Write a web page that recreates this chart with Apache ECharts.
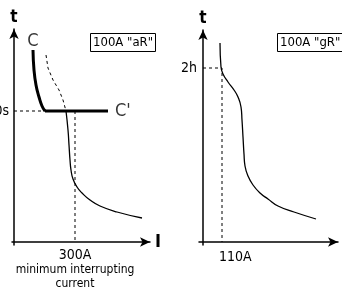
<!DOCTYPE html>
<html>
<head>
<meta charset="utf-8">
<script src="https://cdn.jsdelivr.net/npm/echarts@6/dist/echarts.min.js"></script>
<style>
  html, body { margin: 0; padding: 0; background: #fff; }
  #chart { width: 342px; height: 290px; }
</style>
</head>
<body>
<div id="chart"></div>
<script>
// 左图 100A "aR"（单位为示意刻度）
const aRCurveC = [[19, 192], [20, 172], [22, 157], [25, 145], [28, 136], [31, 131]]
const aRLineC2 = [[31, 131], [94, 131]]
const aRFuseHidden = [[32, 187], [34, 174], [39, 162], [45, 152], [49, 142], [52, 131]]
const aRFuse = [[52, 131], [54, 112], [55, 97], [56, 82], [57, 72], [59, 63], [63, 55], [68, 49], [76, 42], [86, 36], [103, 30], [128, 24]]
const aRTime = 131    // 10s
const aRCurrent = 61  // 300A

// 右图 100A "gR"
const gRFuse = [[17, 199], [18, 175], [20, 168], [25, 160], [31, 152], [35, 145], [38, 135], [39, 122], [40, 105], [41, 88], [42, 76], [45, 66], [50, 57], [57, 49], [65, 43], [75, 36], [91, 30], [113, 23]]
const gRTime = 174    // 2h
const gRCurrent = 19  // 110A

const tickLabels = ['10s', '300A', '2h', '110A']
const titles = ['100A "aR"', '100A "gR"']

const font = "'Liberation Sans Narrow', 'DejaVu Sans Condensed', 'Liberation Sans', sans-serif"

let myChart = echarts.init(document.getElementById('chart'))

function axisLine() {
  return {
    show: true,
    onZero: true,
    symbol: ['none', 'arrow'],
    symbolSize: [7, 10],
    lineStyle: { color: '#000', width: 1.5 },
  }
}

function dashed(data, xi) {
  return {
    type: 'line',
    xAxisIndex: xi,
    yAxisIndex: xi,
    data: data,
    symbol: 'none',
    silent: true,
    lineStyle: { color: '#000', width: 1, type: [3, 3] },
  }
}

function solid(data, xi, w, smooth) {
  return {
    type: 'line',
    xAxisIndex: xi,
    yAxisIndex: xi,
    data: data,
    symbol: 'none',
    smooth: smooth,
    silent: true,
    lineStyle: { color: '#000', width: w },
  }
}

let option = {
  animation: false,
  textStyle: { fontFamily: font },
  title: [
    {
      text: titles[0],
      left: 90,
      top: 33,
      padding: [3, 3],
      borderColor: '#000',
      borderWidth: 1,
      textStyle: { fontFamily: font, fontSize: 13, fontWeight: 'normal', color: '#000' },
    },
    {
      text: titles[1],
      left: 277,
      top: 33,
      padding: [3, 3],
      borderColor: '#000',
      borderWidth: 1,
      textStyle: { fontFamily: font, fontSize: 13, fontWeight: 'normal', color: '#000' },
    },
  ],
  grid: [
    { left: 12, top: 29, width: 138, height: 216, outerBoundsMode: 'none', containLabel: false },
    { left: 199, top: 30, width: 139, height: 215, outerBoundsMode: 'none', containLabel: false },
  ],
  xAxis: [
    {
      gridIndex: 0,
      type: 'value',
      min: -2,
      max: 136,
      name: 'I',
      nameLocation: 'end',
      nameGap: 5,
      nameTextStyle: { fontSize: 18, fontWeight: 'bold', color: '#000', fontFamily: font, padding: [0, 0, 20, 0] },
      axisLine: axisLine(),
      axisTick: { show: false },
      splitLine: { show: false },
      axisLabel: {
        customValues: [aRCurrent],
        formatter: () => tickLabels[1] + '\n{s|minimum interrupting}\n{s|current}',
        margin: 3,
        color: '#000',
        fontSize: 14,
        lineHeight: 15,
        fontFamily: font,
        rich: {
          s: { fontSize: 12, lineHeight: 14, color: '#000', fontFamily: font },
        },
      },
    },
    {
      gridIndex: 1,
      type: 'value',
      min: -4,
      max: 135,
      axisLine: axisLine(),
      axisTick: { show: false },
      splitLine: { show: false },
      axisLabel: {
        customValues: [gRCurrent],
        formatter: () => tickLabels[3],
        margin: 5,
        align: 'left',
        padding: [0, 0, 0, -3],
        color: '#000',
        fontSize: 14,
        fontFamily: font,
      },
    },
  ],
  yAxis: [
    {
      gridIndex: 0,
      type: 'value',
      min: -3,
      max: 213,
      name: 't',
      nameLocation: 'end',
      nameGap: 3,
      nameTextStyle: { fontSize: 17, fontWeight: 'bold', color: '#000', fontFamily: font },
      axisLine: axisLine(),
      axisTick: { show: false },
      splitLine: { show: false },
      axisLabel: {
        customValues: [aRTime],
        formatter: () => tickLabels[0],
        margin: 3,
        color: '#000',
        fontSize: 14,
        fontFamily: font,
      },
    },
    {
      gridIndex: 1,
      type: 'value',
      min: -3,
      max: 212,
      name: 't',
      nameLocation: 'end',
      nameGap: 3,
      nameTextStyle: { fontSize: 17, fontWeight: 'bold', color: '#000', fontFamily: font },
      axisLine: axisLine(),
      axisTick: { show: false },
      splitLine: { show: false },
      axisLabel: {
        customValues: [gRTime],
        formatter: () => tickLabels[2],
        margin: 2,
        color: '#000',
        fontSize: 14,
        fontFamily: font,
      },
    },
  ],
  series: [
    // 左图
    dashed([[0, aRTime], [aRCurveC[aRCurveC.length - 1][0], aRTime]], 0),
    dashed(aRFuseHidden, 0),
    dashed([[aRCurrent, aRTime], [aRCurrent, 0]], 0),
    solid(aRCurveC, 0, 3, 0.5),
    solid(aRLineC2, 0, 3, false),
    solid(aRFuse, 0, 1.3, 0.5),
    {
      type: 'scatter',
      xAxisIndex: 0,
      yAxisIndex: 0,
      symbolSize: 0,
      silent: true,
      itemStyle: { color: '#fff' },
      label: { show: true, color: '#000', fontSize: 18, fontFamily: font },
      data: [
        { value: aRCurveC[0], label: { formatter: 'C', position: 'top', distance: 0 } },
        { value: aRLineC2[1], label: { formatter: "C'", position: 'right', distance: 7 } },
      ],
    },
    // 右图
    dashed([[0, gRTime], [gRCurrent, gRTime], [gRCurrent, 0]], 1),
    solid(gRFuse, 1, 1.3, 0.5),
  ],
}

myChart.setOption(option)
</script>
</body>
</html>
